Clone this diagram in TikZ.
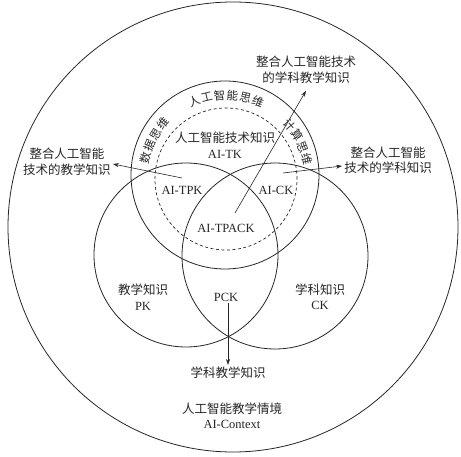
\documentclass[tikz,border=0pt]{standalone}
\usepackage{fontspec}
\setmainfont{Liberation Serif}
\newfontfamily\cjk{Noto Sans CJK SC}
\usetikzlibrary{arrows.meta, positioning}

\begin{document}
\begin{tikzpicture}[x=1pt, y=1pt,
        ring/.style={draw=black!85, line width=0.8pt},
        lbl/.style={align=center, text=black!85, font=\fontsize{12.5}{15.5}\selectfont, inner sep=2pt},
        cjklbl/.style={lbl, font=\cjk\fontsize{12.5}{15.5}\selectfont},
        arctext/.style={text=black!85, font=\cjk\fontsize{11.5}{14}\selectfont, inner sep=0pt},
        arr/.style={draw=black!85, line width=0.6pt, -{Stealth[length=6pt, width=4pt]}}
    ]
        \useasboundingbox (0,0) rectangle (461,456);

        % circles
        \draw[ring] (233,229) circle [radius=225pt];
        \draw[ring] (225,281) circle [radius=94pt];
        \draw[ring] (186,201) circle [radius=92pt];
        \draw[ring] (275,200) circle [radius=93pt];
        \draw[ring, line width=0.7pt, dash pattern=on 3pt off 2.5pt] (226,277) circle [radius=71pt];

        % text along the ring
        \foreach \ch/\ang [count=\i] in {人/112.5, 工/103.5, 智/94.5, 能/85.5, 思/76.5, 维/67.5,
                                        数/166, 据/157, 思/148, 维/139,
                                        计/40, 算/31, 思/22, 维/13}
            \node[arctext, rotate=\ang-90] (arc\i) at ([shift={(\ang:83pt)}]226,278) {\ch};

        \node[lbl] (tk)    at (225,311) {{\cjk 人工智能技术知识}\\AI-TK};
        \node[lbl] (tpk)   at (182,266) {AI-TPK};
        \node[lbl] (ck)    at (276,266) {AI-CK};
        \node[lbl] (tpack) at (226,228) {AI-TPACK};
        \node[lbl] (pk)    at (143,159) {{\cjk 教学知识}\\PK};
        \node[lbl] (cklbl) at (320,159) {{\cjk 学科知识}\\CK};
        \node[lbl] (pck)   at (226,159) {PCK};
        \node[lbl] (context) at (232,40) {{\cjk 人工智能教学情境}\\AI-Context};

        \node[cjklbl] (tpackout) at (306,386) {整合人工智能技术\\的学科教学知识};
        \node[cjklbl] (tpkout)   at (67,294)  {整合人工智能\\技术的教学知识};
        \node[cjklbl] (ckout)    at (388,296) {整合人工智能\\技术的学科知识};
        \node[cjklbl] (pckout)   at (228,83)  {学科教学知识};

        \coordinate (tpackstart) at (235,243);
        \coordinate (tpkstart)   at (182,278);
        \coordinate (ckstart)    at (283,283);

        \draw[arr] (tpackstart) -- ([yshift=-5pt]tpackout.south);
        \draw[arr] (tpkstart)   -- ([yshift=-2pt]tpkout.east);
        \draw[arr] (ckstart)    -- ([yshift=-6pt]ckout.west);
        \draw[arr] ([xshift=2pt]pck.south) -- ([xshift=2pt]pck.south |- pckout.north);
    \end{tikzpicture}
\end{document}
